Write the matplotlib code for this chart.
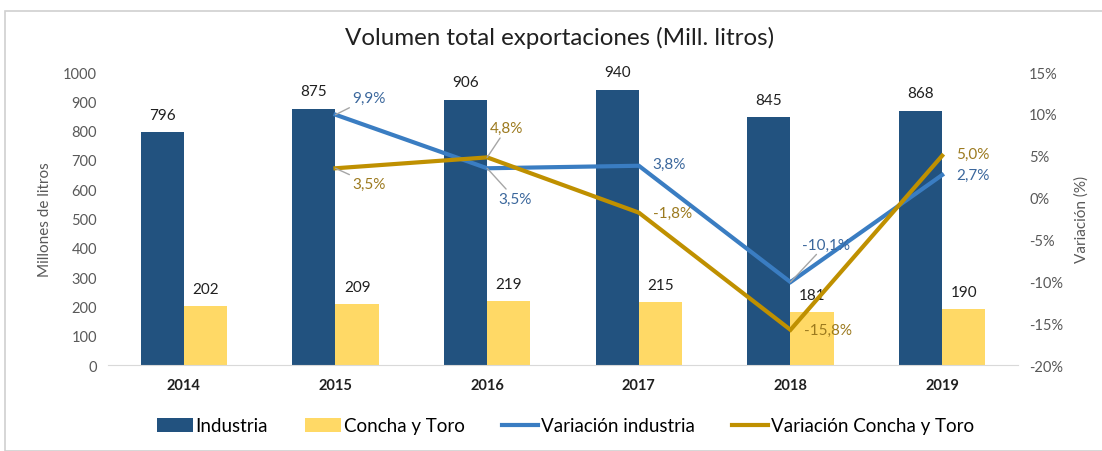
import numpy as np
import matplotlib.pyplot as plt
from matplotlib.patches import Rectangle
from matplotlib.ticker import FuncFormatter

plt.rcParams['font.family'] = ['Lato', 'DejaVu Sans']

years = ['2014', '2015', '2016', '2017', '2018', '2019']
industria = [796, 875, 906, 940, 845, 868]
concha = [202, 209, 219, 215, 181, 190]
var_ind = [np.nan, 9.9, 3.5, 3.8, -10.1, 2.7]
var_cyt = [np.nan, 3.5, 4.8, -1.8, -15.8, 5.0]

navy = '#22527f'
yellow = '#ffd966'
lblue = '#3a7dc2'
gold = '#bf9000'
blue_txt = '#3b679c'
gold_txt = '#9c7a1f'
gray = '#595959'

fig = plt.figure(figsize=(11.02, 4.52), dpi=100)
fig.patches.append(Rectangle((5/1102, 0), 1.0, 1 - 12/452, transform=fig.transFigure,
                             fill=False, edgecolor='#d0d0d0', lw=1.2))
ax = fig.add_axes([108/1102, 1 - 366/452, 910/1102, 293/452])
x = np.arange(len(years))
w = 0.285
ax.bar(x - w/2, industria, w, color=navy, label='Industria')
ax.bar(x + w/2, concha, w, color=yellow, label='Concha y Toro')
for i in range(len(years)):
    ax.text(x[i] - w/2, industria[i] + 35, str(industria[i]), ha='center', va='bottom', fontsize=11, color='#202020')
    ax.text(x[i] + w/2, concha[i] + 35, str(concha[i]), ha='center', va='bottom', fontsize=11, color='#202020')
ax.set_xlim(-0.5, len(years) - 0.5)
ax.set_ylim(0, 1000)
ax.set_yticks(range(0, 1001, 100))
ax.set_xticks(x)
ax.set_xticklabels(years, fontweight='bold', fontsize=10, color='#202020')
ax.tick_params(axis='both', length=0, labelsize=10.5, labelcolor=gray, pad=8)
ax.tick_params(axis='x', labelcolor='#202020', pad=9)
for s in ['top', 'right', 'left']:
    ax.spines[s].set_visible(False)
ax.spines['bottom'].set_color('#d9d9d9')
ax.set_ylabel('Millones de litros', fontsize=11, color=gray, labelpad=8)

ax2 = ax.twinx()
ax2.plot(x, var_ind, color=lblue, lw=3, label='Variación industria', solid_joinstyle='miter')
ax2.plot(x, var_cyt, color=gold, lw=3, label='Variación Concha y Toro', solid_joinstyle='miter')
ax2.set_ylim(-20, 15)
ax2.set_yticks(range(-20, 16, 5))
ax2.yaxis.set_major_formatter(FuncFormatter(lambda v, p: '%d%%' % v))
ax2.tick_params(axis='y', length=0, labelsize=10.5, labelcolor=gray, pad=8)
for s in ['top', 'right', 'left', 'bottom']:
    ax2.spines[s].set_visible(False)
ax2.set_ylabel('Variación (%)', fontsize=11, color=gray, labelpad=8)

def fmt(v):
    return ('%.1f%%' % v).replace('.', ',')

lead = dict(arrowstyle='-', color='#a6a6a6', lw=1, shrinkA=0, shrinkB=0)
# label offsets in points
ind_off = [None, (12, 12), (8, -22), (10, 1), (8, 27), (10, 0)]
ind_lead = [None, True, True, False, True, False]
cyt_off = [None, (12, -11), (2, 21), (10, 0), (10, 0), (10, 1)]
cyt_lead = [None, True, True, False, False, False]
for i in range(1, len(years)):
    ax2.annotate(fmt(var_ind[i]), (x[i], var_ind[i]), xytext=ind_off[i], textcoords='offset points',
                 ha='left', va='center', fontsize=11, color=blue_txt,
                 arrowprops=lead if ind_lead[i] else None)
    ax2.annotate(fmt(var_cyt[i]), (x[i], var_cyt[i]), xytext=cyt_off[i], textcoords='offset points',
                 ha='left', va='center', fontsize=11, color=gold_txt,
                 arrowprops=lead if cyt_lead[i] else None)

fig.text(0.508, 1 - 38/452, 'Volumen total exportaciones (Mill. litros)', ha='center', va='center',
         fontsize=17.4, color='#202020')

h1, l1 = ax.get_legend_handles_labels()
h2, l2 = ax2.get_legend_handles_labels()
fig.legend(h1 + h2, l1 + l2, loc='center', bbox_to_anchor=(0.513, 1 - 427/452), ncol=4,
           frameon=False, fontsize=13.5, handlelength=1.9, handletextpad=0.15, columnspacing=2.0)

fig.savefig('out.png', dpi=100)
